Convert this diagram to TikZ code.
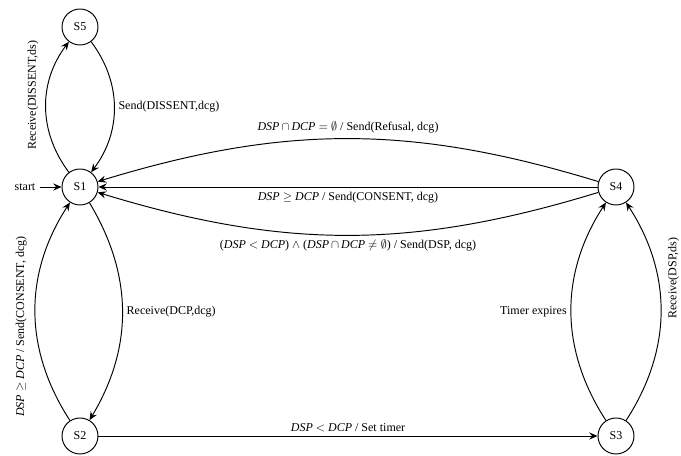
\documentclass[tikz,border=0pt]{standalone}
\usepackage{fontspec}
\setmainfont{Liberation Serif}
\usetikzlibrary{arrows.meta}
\begin{document}
\begin{tikzpicture}[x=0.8333pt,y=0.8333pt,
  st/.style={circle,draw,line width=0.8pt,minimum size=30pt,inner sep=0pt,font=\fontsize{10}{12}\selectfont},
  tr/.style={-{Stealth[length=7pt,width=6pt,inset=2.5pt]},line width=0.8pt},
  rotlbl/.style={midway,anchor=center,rotate=90},
  every node/.append style={font=\fontsize{10}{12}\selectfont}]
\useasboundingbox (0,0) rectangle (681,456);
\node[st] (S5) at (80,429) {S5};
\node[st] (S1) at (80,269) {S1};
\node[st] (S2) at (80,20) {S2};
\node[st] (S3) at (616,20) {S3};
\node[st] (S4) at (616,269) {S4};
\node (start) at (25,269) {start};
\draw[tr] (start) -- (S1);
\draw[tr] (S1) to[bend left=37] node[xshift=-10.7pt,yshift=10pt,rotlbl]{Receive(DISSENT,ds)} (S5);
\draw[tr] (S5) to[bend left=37] node[right]{Send(DISSENT,dcg)} (S1);
\draw[tr] (S4) to[bend right=17] node[above,yshift=1pt]{\textit{DSP}\,$\cap$\,\textit{DCP} $=\emptyset$ / Send(Refusal, dcg)} (S1);
\draw[tr] (S4) -- node[below,yshift=-1pt]{\textit{DSP} $\geq$ \textit{DCP} / Send(CONSENT, dcg)} (S1);
\draw[tr] (S4) to[bend left=17] node[below]{(\textit{DSP} $<$ \textit{DCP}) $\wedge$ (\textit{DSP}\,$\cap$\,\textit{DCP} $\neq\emptyset$) / Send(DSP, dcg)} (S1);
\draw[tr] (S1) to[bend left=31] node[right]{Receive(DCP,dcg)} (S2);
\draw[tr] (S2) to[bend left=33] node[xshift=-11.7pt,yshift=-12.5pt,rotlbl]{\textit{DSP} $\geq$ \textit{DCP} / Send(CONSENT, dcg)} (S1);
\draw[tr] (S2) -- node[above]{\textit{DSP} $<$ \textit{DCP} / Set timer} (S3);
\draw[tr] (S3) to[bend left=33] node[left]{Timer expires} (S4);
\draw[tr] (S3) to[bend right=33] node[xshift=10.5pt,yshift=27.5pt,rotlbl]{Receive(DSP,ds)} (S4);
\end{tikzpicture}
\end{document}
